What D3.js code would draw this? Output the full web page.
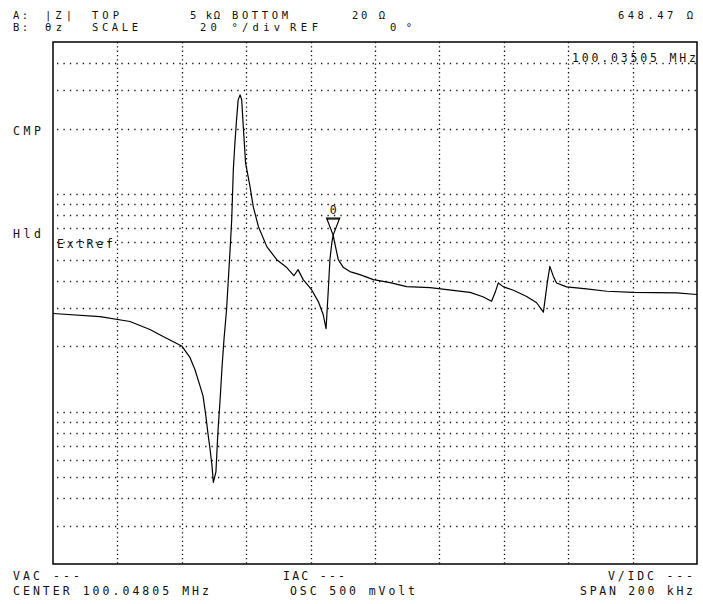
<!DOCTYPE html>
<html><head><meta charset="utf-8">
<script src="https://cdn.jsdelivr.net/npm/d3@7"></script>
<style>
html,body{margin:0;padding:0;background:#fff;}
svg{display:block;}
text{font-family:"DejaVu Sans Mono",monospace;font-size:11.5px;fill:#111;}
text.hdr{font-size:10.5px;}
</style></head>
<body>
<script>
// ---- data ----
const centerMHz = 100.04805;
const spanKHz = 200;
const topOhm = 5000, bottomOhm = 20;
const freqOffsetKHz = [-100, -85.4, -76.1, -69.9, -65.8, -59.9, -57.5, -55.9, -54.3, -53.4, -52.5, -51.9, -51.2, -50.6, -50.2, -49.4, -48.8, -48.1, -47.5, -46.9, -46.1, -45.0, -44.5, -44.0, -43.5, -43.0, -42.5, -41.9, -41.4, -40.9, -40.2, -38.8, -37.8, -36.2, -33.6, -30.5, -27.4, -25.2, -23.9, -22.3, -19.7, -17.6, -16.1, -15.2, -14.5, -14.0, -13.4, -13.0, -12.4, -11.4, -9.8, -7.8, -4.7, -0.5, 4.7, 9.8, 17.1, 29.5, 33.5, 36.2, 37.3, 38.3, 39.8, 43.0, 47.1, 50.2, 52.3, 53.5, 54.3, 55.4, 56.4, 59.5, 65.7, 72.0, 80.2, 93.7, 100];
const impedanceOhm = [283, 274, 260, 239, 222, 200, 178, 156, 131, 118, 95, 80, 67, 56, 47.4, 53, 80, 114, 161, 215, 295, 556, 763, 1294, 1721, 2194, 2710, 2858, 2710, 2038, 1393, 1081, 875, 709, 574, 500, 460, 422, 450, 405, 364, 321, 280, 241, 364, 500, 599, 648.47, 586, 500, 460, 441, 427, 405, 392, 376, 372, 354, 338, 322, 353, 391, 376, 362, 339, 317, 287, 391, 466, 419, 391, 375, 367, 358, 354, 352, 346];
const markerOffsetKHz = -13.0;   // 100.03505 MHz
const markerOhm = 648.47;
const markerLabel = "0";
const xGridKHz = [-80, -60, -40, -20, 0, 20, 40, 60, 80];
const yGridOhm = [30, 40, 50, 60, 70, 80, 90, 100, 200, 300, 400, 500, 600, 700, 800, 900, 1000, 2000, 3000, 4000];
// [text, x, baseline, width]
const headerLabels = [
  ["A:", 13, 18.5, 15], ["|Z|", 45, 18.5, 27], ["TOP", 92, 18.5, 27], ["5 kΩ", 190, 18.5, 30], ["BOTTOM", 232, 18.5, 56], ["20 Ω", 352, 18.5, 33], ["648.47 Ω", 618, 18.5, 75],
  ["B:", 13, 31, 15], ["θz", 45, 31, 17], ["SCALE", 92, 31, 46], ["20 °/div", 200, 31, 80], ["REF", 290, 31, 28], ["0 °", 390, 31, 22]
];
const footerLabels = [
  ["VAC ---", 13, 580, 67], ["IAC ---", 283, 580, 62], ["V/IDC ---", 608, 580, 85],
  ["CENTER 100.04805 MHz", 13, 595, 196], ["OSC 500 mVolt", 290, 595, 125], ["SPAN 200 kHz", 580, 595, 113]
];
const sideLabels = [["CMP", 13, 135, 28], ["Hld", 13, 238, 28], ["ExtRef", 57, 248, 56], ["100.03505 MHz", 572, 62, 124]];

// ---- drawing ----
const W = 703, H = 604;
const plot = {left: 53, right: 697, top: 42, bottom: 564};
const svg = d3.select("body").append("svg").attr("width", W).attr("height", H);
const x = d3.scaleLinear().domain([-spanKHz/2, spanKHz/2]).range([plot.left, plot.right]);
const y = d3.scaleLog().domain([bottomOhm, topOhm]).range([plot.bottom, plot.top]);

const grid = svg.append("g");
grid.selectAll("line.v").data(xGridKHz).join("line").attr("class","v")
  .attr("x1", d => Math.round(x(d)) + 0.5).attr("x2", d => Math.round(x(d)) + 0.5).attr("y1", plot.top).attr("y2", plot.bottom)
  .attr("stroke", "#111").attr("stroke-width", 1.3).attr("stroke-dasharray", "1.3,3");
grid.selectAll("line.h").data(yGridOhm).join("line").attr("class","h")
  .attr("x1", plot.left + 4).attr("x2", plot.right).attr("y1", d => Math.round(y(d)) + 0.5).attr("y2", d => Math.round(y(d)) + 0.5)
  .attr("stroke", "#111").attr("stroke-width", 1.3).attr("stroke-dasharray", "1.3,5.14");

svg.append("rect").attr("x", plot.left).attr("y", plot.top)
  .attr("width", plot.right - plot.left).attr("height", plot.bottom - plot.top)
  .attr("fill", "none").attr("stroke", "#000").attr("stroke-width", 1.5);

const pts = freqOffsetKHz.map((f, i) => [f, impedanceOhm[i]]);
svg.append("path").datum(pts)
  .attr("d", d3.line().x(d => x(d[0])).y(d => y(d[1])))
  .attr("fill", "none").attr("stroke", "#000").attr("stroke-width", 1.2).attr("stroke-linejoin", "round");

// marker
const mx = x(markerOffsetKHz), my = y(markerOhm);
svg.append("path")
  .attr("d", `M${mx-6.5},${my-17}L${mx+6.5},${my-17}L${mx},${my}Z`)
  .attr("fill", "none").attr("stroke", "#000").attr("stroke-width", 1.2);
svg.append("line").attr("x1", mx-6.5).attr("x2", mx+6.5).attr("y1", my-16).attr("y2", my-16).attr("stroke", "#000").attr("stroke-width", 1);
svg.append("text").attr("x", mx).attr("y", my - 21).attr("text-anchor", "middle").text(markerLabel);

svg.selectAll("text.hdr").data(headerLabels).join("text").attr("class", "hdr")
  .attr("x", d => d[1]).attr("y", d => d[2])
  .attr("textLength", d => d[3]).attr("lengthAdjust", "spacing")
  .text(d => d[0]);
svg.selectAll("text.lbl").data(footerLabels.concat(sideLabels)).join("text").attr("class", "lbl")
  .attr("x", d => d[1]).attr("y", d => d[2])
  .attr("textLength", d => d[3]).attr("lengthAdjust", "spacing")
  .text(d => d[0]);
</script>
</body></html>
